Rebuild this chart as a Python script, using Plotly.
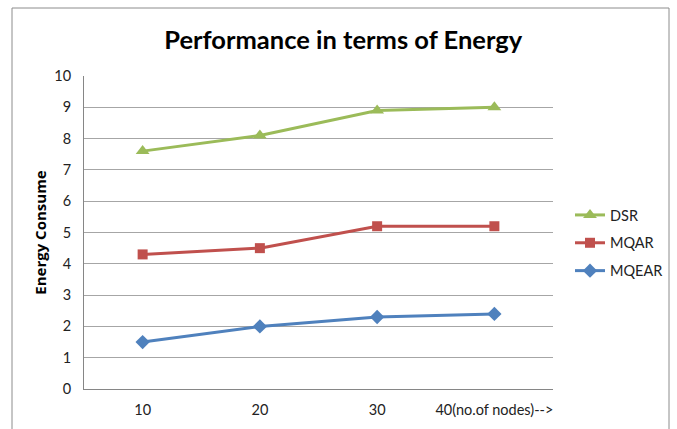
import plotly.graph_objects as go

categories = ["10", "20", "30", "40(no.of nodes)-->"]
dsr = [7.6, 8.1, 8.9, 9.0]
mqar = [4.3, 4.5, 5.2, 5.2]
mqear = [1.5, 2.0, 2.3, 2.4]
y_ticks = list(range(0, 11))

W, H = 677, 429
L, R, T, B = 84, 553, 76, 389

fig = go.Figure()
series = [
    ("DSR", dsr, "#9bbb59", "triangle-up", 12),
    ("MQAR", mqar, "#c0504d", "square", 10),
    ("MQEAR", mqear, "#4f81bd", "diamond", 11),
]
for name, vals, col, sym, sz in series:
    fig.add_trace(go.Scatter(
        x=categories, y=vals, name=name, mode="lines+markers",
        line=dict(color=col, width=3),
        marker=dict(symbol=sym, size=sz, color=col),
        legendgroup=name,
    ))

pw, ph = R - L, B - T
fig.add_shape(type="rect", xref="paper", yref="paper",
              x0=(12 - L) / pw, x1=(669 - L) / pw,
              y0=(B - 440) / ph, y1=(B - 8) / ph,
              line=dict(color="#8c8c8c", width=1), layer="below")

tick_font = dict(family="Lato, sans-serif", size=14.5, color="#222222")

fig.update_layout(
    width=W, height=H,
    margin=dict(l=L, r=W - R, t=T, b=H - B),
    paper_bgcolor="white", plot_bgcolor="white",
    font=dict(family="Lato, sans-serif", size=14, color="#333333"),
    title=dict(text="<b>Performance in terms of Energy</b>", x=0.507, xanchor="center",
               y=1 - 40 / H, yanchor="middle",
               font=dict(family="Lato, sans-serif", size=25.5, color="#000000")),
    showlegend=True,
    legend=dict(xref="container", yref="container",
                x=570 / W, xanchor="left", y=1 - 199 / H, yanchor="top",
                font=dict(family="Lato, sans-serif", size=14.5, color="#222222"),
                itemwidth=30, tracegroupgap=6, bgcolor="rgba(0,0,0,0)"),
    xaxis=dict(type="category", showgrid=False, showline=True, linecolor="#868686",
               linewidth=1, ticks="outside", ticklen=8, tickcolor="rgba(0,0,0,0)",
               tickfont=tick_font, range=[-0.5, 3.5], fixedrange=True),
    yaxis=dict(range=[0, 10], tickvals=y_ticks, showgrid=True, gridcolor="#a6a6a6",
               gridwidth=1, showline=True, linecolor="#868686", linewidth=1,
               ticks="outside", ticklen=9, tickcolor="rgba(0,0,0,0)", tickfont=tick_font,
               zeroline=False,
               title=dict(text="<b>Energy Consume</b>", standoff=4,
                          font=dict(family="Open Sans, sans-serif", size=15, color="#000000"))),
)

fig.write_html("out.html", config={"displayModeBar": False},
               post_script="document.body.style.margin='0px';")
